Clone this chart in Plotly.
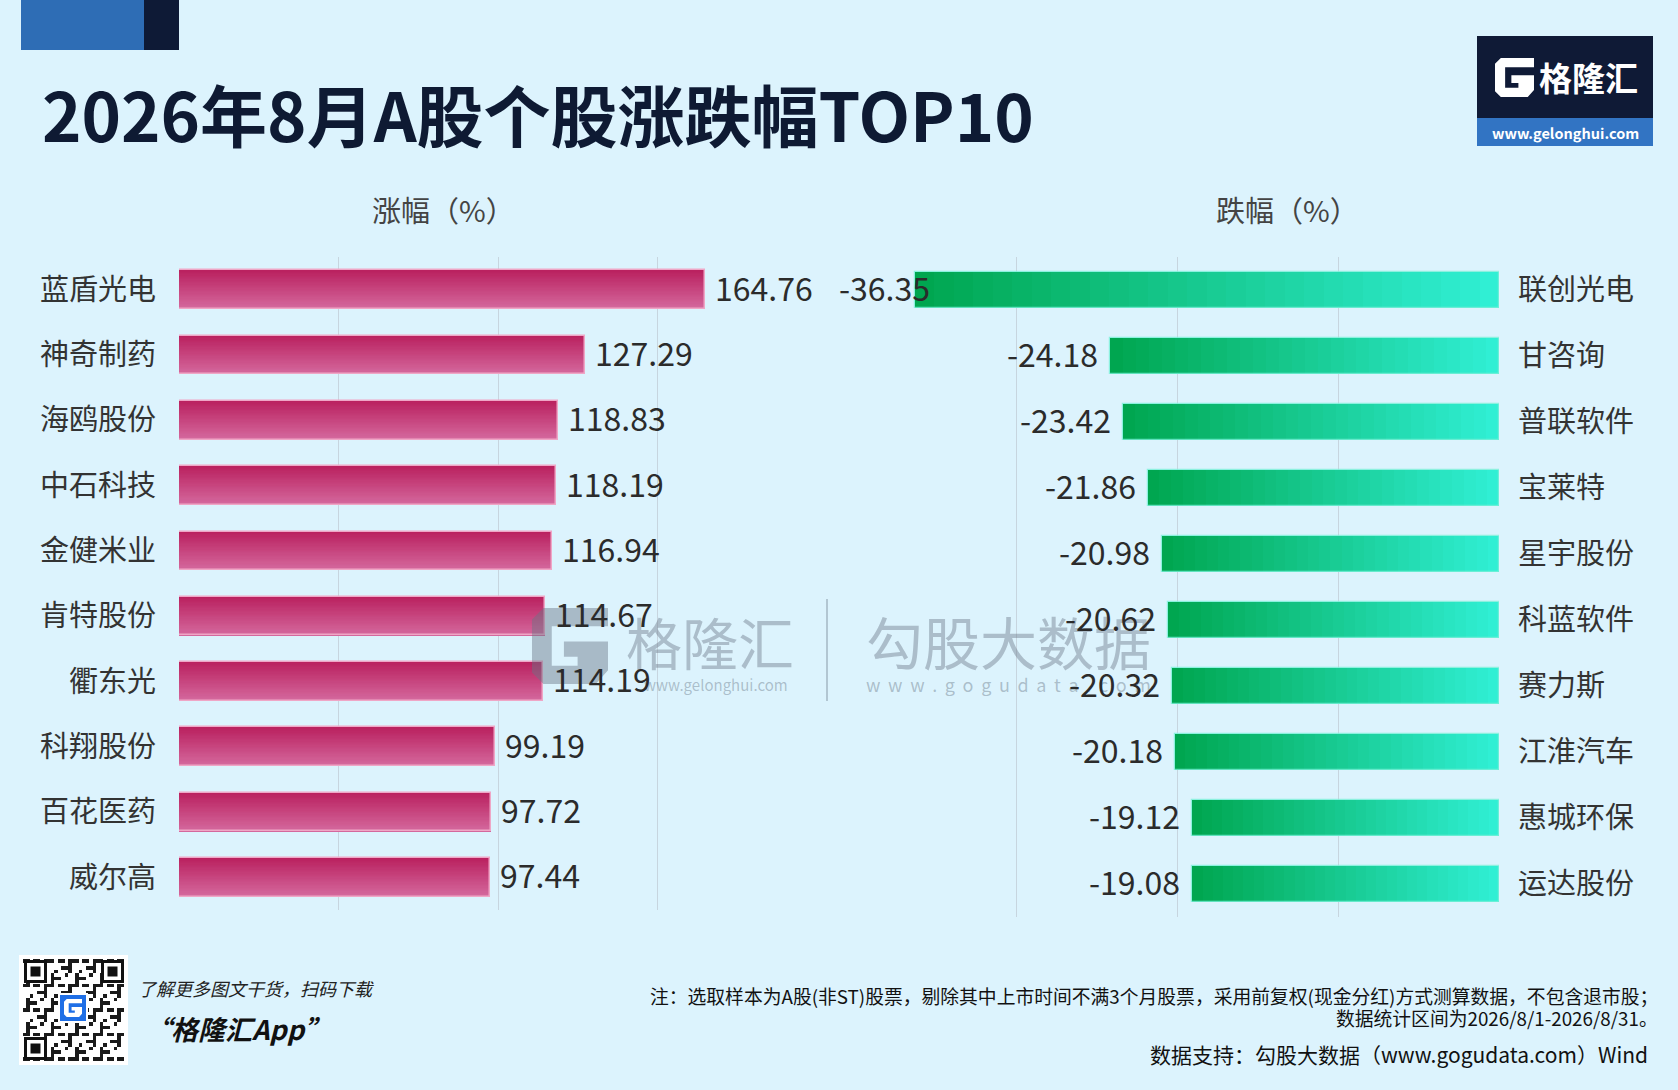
import plotly.graph_objects as go

# Canvas size of the reference picture
W, H = 1678, 1090

# 涨幅 TOP10
gain_names = ['蓝盾光电', '神奇制药', '海鸥股份', '中石科技', '金健米业',
              '肯特股份', '衢东光', '科翔股份', '百花医药', '威尔高']
gain_values = [164.76, 127.29, 118.83, 118.19, 116.94,
               114.67, 114.19, 99.19, 97.72, 97.44]

# 跌幅 TOP10
loss_names = ['联创光电', '甘咨询', '普联软件', '宝莱特', '星宇股份',
              '科蓝软件', '赛力斯', '江淮汽车', '惠城环保', '运达股份']
loss_values = [-36.35, -24.18, -23.42, -21.86, -20.98,
               -20.62, -20.32, -20.18, -19.12, -19.08]

FONT = 'Noto Sans CJK SC'
BG = '#DCF3FD'
GRID = '#C7D5DF'

# plot areas in pixels
L_X0, L_X1, L_Y0, L_Y1 = 179, 817, 257, 910
R_X0, R_X1, R_Y0, R_Y1 = 856, 1499, 257, 917
R_MIN = -40


# pixel -> paper helpers
def px(x):
    return x / W


def py(y):
    return 1 - y / H


def mix(c1, c2, t):
    a = [int(c1[i:i + 2], 16) for i in (1, 3, 5)]
    b = [int(c2[i:i + 2], 16) for i in (1, 3, 5)]
    c = [round(a[i] + (b[i] - a[i]) * t) for i in range(3)]
    return 'rgb({},{},{})'.format(*c)


def g_path(x0, y0, s):
    # blocky "G" of the gelonghui logo, unit box with y pointing down
    pts = [(0.15, 0), (1, 0), (1, 0.24), (0.26, 0.24), (0.26, 0.76), (0.6, 0.76),
           (0.6, 0.64), (0.42, 0.64), (0.42, 0.44), (1, 0.44), (1, 0.82),
           (0.84, 1), (0.15, 1), (0, 0.85), (0, 0.15)]
    d = ''
    for i, (u, v) in enumerate(pts):
        d += ('M' if i == 0 else 'L') + '{:.5f},{:.5f} '.format(px(x0 + u * s), py(y0 + v * s))
    return d + 'Z'


fig = go.Figure()

# Left bars: vertical gradient, built from stacked slices (each later slice covers the one below)
N = 30
bw_left = 0.59
for k in range(N):
    fig.add_trace(go.Bar(
        x=gain_values, y=gain_names, orientation='h',
        width=bw_left * (1 - k / N), offset=-bw_left / 2 + bw_left * k / N,
        marker=dict(color=mix('#BA2260', '#D4689D', k / (N - 1)), line=dict(width=0)),
        xaxis='x', yaxis='y', hoverinfo='skip', showlegend=False))
fig.add_trace(go.Bar(
    x=gain_values, y=gain_names, orientation='h', width=bw_left, offset=-bw_left / 2,
    marker=dict(color='rgba(0,0,0,0)', line=dict(color='#EFA6C6', width=1.5)),
    xaxis='x', yaxis='y', hoverinfo='skip', showlegend=False))

# Right bars: horizontal gradient from cyan (at 0) to green (at bar end)
bw_right = 0.56
for k in range(N):
    fig.add_trace(go.Bar(
        x=[v * (1 - k / N) for v in loss_values],
        base=[v * k / N for v in loss_values],
        y=loss_names, orientation='h', width=bw_right,
        marker=dict(color=mix('#30EFD4', '#00A650', k / (N - 1)), line=dict(width=0)),
        xaxis='x2', yaxis='y2', hoverinfo='skip', showlegend=False))
fig.add_trace(go.Bar(
    x=loss_values, y=loss_names, orientation='h', width=bw_right,
    marker=dict(color='rgba(0,0,0,0)', line=dict(color='rgba(120,240,215,0.8)', width=1.2)),
    xaxis='x2', yaxis='y2', hoverinfo='skip', showlegend=False))

# QR code look-alike in the footer (decoration only)
QN = 29
qr = []
for i in range(QN):
    row = []
    for j in range(QN):
        row.append(1 if (i * i * 3 + j * 7 + i * j * 5 + j * j) % 7 < 3 else 0)
    qr.append(row)
fig.add_trace(go.Heatmap(z=qr, xaxis='x3', yaxis='y3', showscale=False, hoverinfo='skip',
                         colorscale=[[0, 'white'], [1, '#1A1A1A']], zmin=0, zmax=1))

annotations = []

# Watermark in the middle
wm = 'rgba(110,125,140,0.45)'
annotations.append(dict(text='格隆汇', x=px(710), y=py(640), font=dict(family=FONT, size=56, color=wm)))
annotations.append(dict(text='www.gelonghui.com', x=px(716), y=py(684), font=dict(family=FONT, size=15, color=wm)))
annotations.append(dict(text='勾股大数据', x=px(1008), y=py(640), font=dict(family=FONT, size=57, color=wm)))
annotations.append(dict(text=' \u2009'.join('www.gogudata.com'), x=px(1008), y=py(684),
                        font=dict(family=FONT, size=18, color=wm)))

# Value labels
VAL_SIZE = 32
for name, v in zip(gain_names, gain_values):
    annotations.append(dict(text='{:.2f}'.format(v), x=v, y=name, xref='x', yref='y',
                            xanchor='left', xshift=8, yshift=3, showarrow=False,
                            font=dict(family=FONT, size=VAL_SIZE, color='#2B2B2B')))
r_scale = (R_X1 - R_X0) / (0 - R_MIN)
for name, v in zip(loss_names, loss_values):
    # keep the label from running past the left edge of the panel
    label = '{:.2f}'.format(v)
    label_w = 0.47 * VAL_SIZE * len(label)
    right_edge = R_X1 + v * r_scale - 10
    shift = max(0, (R_X0 - 14) - (right_edge - label_w))
    annotations.append(dict(text=label, x=v, y=name, xref='x2', yref='y2',
                            xanchor='right', xshift=-10 + shift, yshift=3, showarrow=False,
                            font=dict(family=FONT, size=VAL_SIZE, color='#2B2B2B')))

# Title and headers
annotations.append(dict(text='2026年8月A股个股涨跌幅TOP10', x=px(40), y=py(112), xanchor='left',
                        font=dict(family=FONT, size=67, color='#0E1A33', weight='bold')))
annotations.append(dict(text='涨幅（%）', x=px(443), y=py(209),
                        font=dict(family=FONT, size=29, color='#444444')))
annotations.append(dict(text='跌幅（%）', x=px(1287), y=py(209),
                        font=dict(family=FONT, size=29, color='#444444')))

# Logo texts
annotations.append(dict(text='格隆汇', x=px(1588), y=py(77),
                        font=dict(family=FONT, size=33, color='white', weight='bold')))
annotations.append(dict(text='www.gelonghui.com', x=px(1565), y=py(132),
                        font=dict(family=FONT, size=14.5, color='white', weight='bold')))

# Footer
annotations.append(dict(text='<i>了解更多图文干货，扫码下载</i>', x=px(136), y=py(988), xanchor='left',
                        font=dict(family=FONT, size=18, color='#222222')))
annotations.append(dict(text='<b><i>“格隆汇App”</i></b>', x=px(142), y=py(1028), xanchor='left',
                        font=dict(family=FONT, size=27, color='#111111')))
annotations.append(dict(text='注：选取样本为A股(非ST)股票，剔除其中上市时间不满3个月股票，采用前复权(现金分红)方式测算数据，不包含退市股；',
                        x=px(1660), y=py(995), xanchor='right',
                        font=dict(family=FONT, size=18.8, color='#111111')))
annotations.append(dict(text='数据统计区间为2026/8/1-2026/8/31。', x=px(1660), y=py(1017), xanchor='right',
                        font=dict(family=FONT, size=18.8, color='#111111')))
annotations.append(dict(text='数据支持：勾股大数据（www.gogudata.com）Wind', x=px(1650), y=py(1054), xanchor='right',
                        font=dict(family=FONT, size=21, color='#111111')))

for a in annotations:
    a.setdefault('xref', 'paper')
    a.setdefault('yref', 'paper')
    a.setdefault('xanchor', 'center')
    a.setdefault('yanchor', 'middle')
    a.setdefault('showarrow', False)

shapes = [
    # header blocks
    dict(type='rect', x0=px(21), x1=px(144), y0=py(50), y1=py(0), fillcolor='#2E6DB5', line_width=0),
    dict(type='rect', x0=px(144), x1=px(179), y0=py(50), y1=py(0), fillcolor='#0E1A36', line_width=0),
    # logo box
    dict(type='rect', x0=px(1477), x1=px(1653), y0=py(118), y1=py(36), fillcolor='#0F1A36', line_width=0),
    dict(type='rect', x0=px(1477), x1=px(1653), y0=py(146), y1=py(118), fillcolor='#3274C3', line_width=0),
    dict(type='path', path=g_path(1495, 58, 39), fillcolor='white', line_width=0),
    # watermark
    dict(type='path', path=g_path(532, 608, 76), fillcolor='rgba(105,118,132,0.45)', line_width=0, layer='above'),
    dict(type='line', x0=px(827), x1=px(827), y0=py(599), y1=py(701),
         line=dict(color='rgba(115,130,145,0.4)', width=2), layer='above'),
    # QR code frame
    dict(type='rect', x0=px(19), x1=px(128), y0=py(1065), y1=py(955), fillcolor='white', line_width=0,
         layer='below'),
]
for fx, fy in [(24, 960), (101, 960), (24, 1037)]:
    shapes.append(dict(type='rect', x0=px(fx), x1=px(fx + 23), y0=py(fy + 23), y1=py(fy),
                       fillcolor='#111111', line_width=0, layer='above'))
    shapes.append(dict(type='rect', x0=px(fx + 3), x1=px(fx + 20), y0=py(fy + 20), y1=py(fy + 3),
                       fillcolor='white', line_width=0, layer='above'))
    shapes.append(dict(type='rect', x0=px(fx + 6.5), x1=px(fx + 16.5), y0=py(fy + 16.5), y1=py(fy + 6.5),
                       fillcolor='#111111', line_width=0, layer='above'))
shapes.append(dict(type='rect', x0=px(59), x1=px(87), y0=py(1022), y1=py(994), fillcolor='#1F6FE6',
                   line=dict(color='white', width=2), layer='above'))
shapes.append(dict(type='path', path=g_path(64, 999, 18), fillcolor='white', line_width=0, layer='above'))
for s in shapes:
    s['xref'] = 'paper'
    s['yref'] = 'paper'

fig.update_layout(
    width=W, height=H,
    margin=dict(l=0, r=0, t=0, b=0),
    paper_bgcolor=BG, plot_bgcolor='rgba(0,0,0,0)',
    barmode='overlay', bargap=0,
    showlegend=False,
    font=dict(family=FONT),
    xaxis=dict(domain=[px(L_X0), px(L_X1)], range=[0, 200], dtick=50, tick0=0,
               showgrid=True, gridcolor=GRID, gridwidth=1.3, zeroline=False,
               showticklabels=False, showline=False, anchor='y', fixedrange=True),
    yaxis=dict(domain=[py(L_Y1), py(L_Y0)], type='category', autorange='reversed',
               showgrid=False, zeroline=False, showline=False, ticks='',
               ticklabelstandoff=22, tickfont=dict(family=FONT, size=29, color='#333333'),
               anchor='x', fixedrange=True),
    xaxis2=dict(domain=[px(R_X0), px(R_X1)], range=[R_MIN, 0], dtick=10, tick0=0,
                showgrid=True, gridcolor=GRID, gridwidth=1.3, zeroline=False,
                showticklabels=False, showline=False, anchor='y2', fixedrange=True),
    yaxis2=dict(domain=[py(R_Y1), py(R_Y0)], type='category', autorange='reversed', side='right',
                showgrid=False, zeroline=False, showline=False, ticks='',
                ticklabelstandoff=18, tickfont=dict(family=FONT, size=29, color='#333333'),
                anchor='x2', fixedrange=True),
    xaxis3=dict(domain=[px(23), px(124)], visible=False, anchor='y3', fixedrange=True),
    yaxis3=dict(domain=[py(1061), py(959)], visible=False, anchor='x3', fixedrange=True),
    annotations=annotations,
    shapes=shapes,
)

# the page body has a default 8px margin; drop it so the figure fills the window
fig.write_html("out.html", config={'displayModeBar': False},
               post_script="document.body.style.margin='0';")
